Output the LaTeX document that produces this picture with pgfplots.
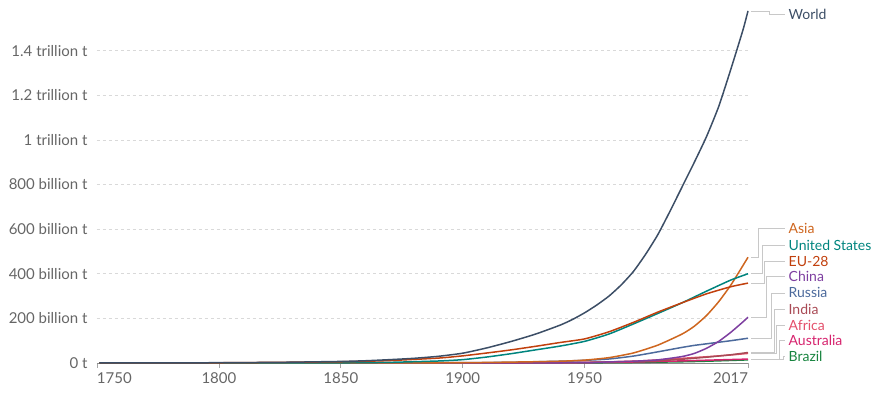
\documentclass[border=0pt]{standalone}
\usepackage{pgfplots}
\pgfplotsset{compat=1.18}
\usepackage{fontspec}
\setmainfont{Lato}
\definecolor{cWorld}{HTML}{3C4E66}
\definecolor{cAsia}{HTML}{CE661F}
\definecolor{cUS}{HTML}{00847E}
\definecolor{cEU}{HTML}{C1400D}
\definecolor{cChina}{HTML}{7E3FA0}
\definecolor{cRussia}{HTML}{4C6A9C}
\definecolor{cIndia}{HTML}{A94A55}
\definecolor{cAfrica}{HTML}{E4506B}
\definecolor{cAus}{HTML}{D6246E}
\definecolor{cBrazil}{HTML}{18843F}
\definecolor{cTick}{HTML}{666666}
\definecolor{cConn}{HTML}{C8C8C8}
\newcommand{\conn}[3]{%
  \draw[cConn, line width=0.8pt] (axis cs:2018.4,#2) -- (axis cs:#1,#2) -- (axis cs:#1,#3) -- (axis cs:2032.2,#3);}
\begin{document}
\begin{tikzpicture}
\begin{axis}[
  scale only axis,
  width=651pt, height=357pt,
  xmin=1750, xmax=2017,
  ymin=0, ymax=1600,
  clip=false,
  axis x line*=bottom,
  axis y line*=left,
  y axis line style={draw=none},
  x axis line style={draw=black!45, line width=0.8pt},
  xtick={1750,1800,1850,1900,1950,2017},
  xticklabels={\rlap{1750},1800,1850,1900,1950,\llap{2017}},
  ytick={0,200,400,600,800,1000,1200,1400},
  yticklabels={0 t,200 billion t,400 billion t,600 billion t,800 billion t,1 trillion t,1.2 trillion t,1.4 trillion t},
  tick align=outside,
  xtick style={draw=black!35, line width=0.8pt},
  major tick length=5pt,
  ytick style={draw=none},
  ymajorgrids,
  grid style={dash pattern=on 3pt off 3pt, color=black!15, line width=0.7pt},
  ticklabel style={font=\fontsize{15}{17}\selectfont, text=cTick},
  xticklabel style={yshift=-1pt},
  yticklabel style={xshift=-1pt},
  every axis plot/.append style={line width=1.5pt, no marks, smooth, tension=0.35},
]
\addplot[cBrazil] coordinates {(1850,0) (1900,0.1) (1950,0.7) (1970,2.3) (1990,5.5) (2000,8) (2010,11.5) (2017,14)};
\addplot[cAus] coordinates {(1850,0) (1900,0.4) (1950,2) (1970,4.5) (1990,9.5) (2000,12.5) (2010,15.5) (2017,17.5)};
\addplot[cAfrica] coordinates {(1850,0) (1900,0.1) (1950,2.5) (1970,8) (1980,14) (1990,21) (2000,28) (2010,36) (2017,43)};
\addplot[cIndia] coordinates {(1850,0) (1900,0.3) (1920,0.8) (1950,3) (1970,7) (1980,10) (1990,17) (2000,26) (2010,37) (2017,47)};
\addplot[cRussia] coordinates {(1850,0.1) (1900,1.5) (1920,3) (1940,8) (1950,12) (1960,18) (1970,31) (1980,50) (1990,70) (1995,79) (2000,86) (2005,93) (2010,100) (2017,111)};
\addplot[cChina] coordinates {(1900,0.1) (1950,1.5) (1960,5) (1970,8) (1980,14) (1990,29) (1995,43) (2000,66) (2005,97) (2010,138) (2015,185) (2017,205)};
\addplot[cAsia] coordinates {(1800,0) (1850,0.1) (1900,1.5) (1920,4) (1940,8) (1950,13) (1960,24) (1970,45) (1980,80) (1990,130) (1995,165) (2000,213) (2005,275) (2010,350) (2015,438) (2017,474)};
\addplot[cUS] coordinates {(1751,0) (1800,0.1) (1850,0.9) (1870,3) (1890,9) (1900,15) (1910,27) (1920,42) (1930,59) (1940,76) (1950,97) (1960,130) (1970,175) (1980,222) (1990,270) (2000,322) (2010,372) (2017,400)};
\addplot[cEU] coordinates {(1751,0) (1800,1.0) (1850,5.5) (1870,11) (1890,22) (1900,32) (1910,45) (1920,59) (1930,75) (1940,92) (1950,108) (1960,140) (1970,182) (1980,228) (1990,270) (2000,310) (2010,342) (2017,358)};
\addplot[cWorld] coordinates {(1751,0) (1775,0.4) (1800,1.3) (1825,3) (1850,7) (1860,10) (1870,15) (1880,21) (1890,30) (1900,44) (1910,68) (1920,97) (1930,130) (1940,170) (1945,195) (1950,225) (1955,260) (1960,300) (1965,350) (1970,410) (1975,487) (1980,575) (1985,680) (1990,790) (1995,900) (2000,1015) (2005,1150) (2010,1318) (2015,1495) (2017,1578)};
% connectors
\conn{2025.8}{1578}{1561}
\conn{2021.3}{474}{601}
\conn{2022.8}{400}{529}
\conn{2023.7}{358}{457}
\conn{2024.6}{205}{386}
\conn{2026.6}{111}{314}
\conn{2027.8}{47}{242}
\conn{2028.7}{43}{170}
\conn{2030.0}{17.5}{103}
\conn{2031.6}{14}{31}
% labels
\begin{scope}[every node/.style={anchor=west, font=\fontsize{14}{16}\selectfont, inner sep=0pt}]
\node[text=cWorld] at (axis cs:2033.6,1561) {World};
\node[text=cAsia] at (axis cs:2033.6,601) {Asia};
\node[text=cUS] at (axis cs:2033.6,529) {United States};
\node[text=cEU] at (axis cs:2033.6,457) {EU-28};
\node[text=cChina] at (axis cs:2033.6,386) {China};
\node[text=cRussia] at (axis cs:2033.6,314) {Russia};
\node[text=cIndia] at (axis cs:2033.6,242) {India};
\node[text=cAfrica] at (axis cs:2033.6,170) {Africa};
\node[text=cAus] at (axis cs:2033.6,103) {Australia};
\node[text=cBrazil] at (axis cs:2033.6,31) {Brazil};
\end{scope}
\end{axis}
\pgfresetboundingbox
\path ([shift={(-97pt,-33pt)}]current axis.south west) rectangle ([shift={(131pt,6pt)}]current axis.north east);
\end{tikzpicture}
\end{document}
